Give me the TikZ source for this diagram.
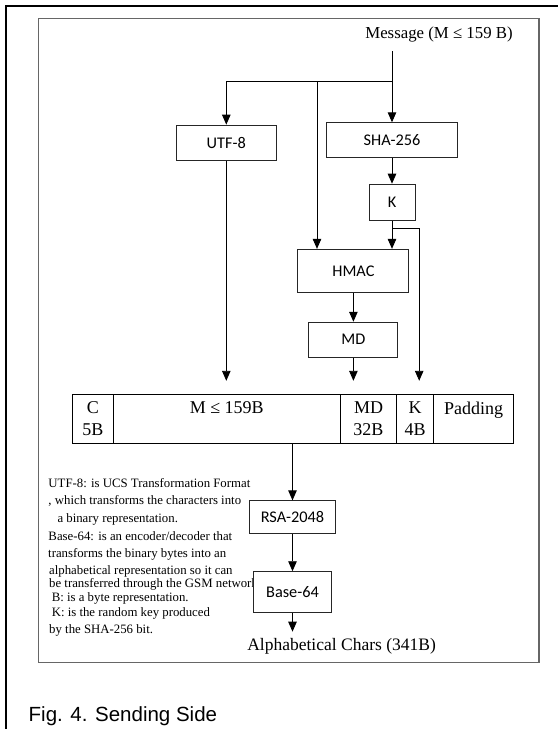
\documentclass[tikz,border=0pt]{standalone}
\usepackage{fontspec}
\setmainfont{Liberation Serif}
\setsansfont{Liberation Sans}
\newfontfamily\boxfont{Carlito}
\usetikzlibrary{arrows.meta,positioning}

\begin{document}
\begin{tikzpicture}[x=1pt, y=-1pt,
  box/.style={draw=black!85, line width=0.9pt, fill=white, inner sep=0pt, font=\boxfont\fontsize{16.3}{18}\selectfont},
  arr/.style={-{Triangle[length=10pt, width=8.5pt]}, line width=0.9pt},
  cell/.style={draw, line width=1pt, minimum height=49pt, inner sep=0pt, outer sep=0pt, align=center, font=\fontsize{18}{22}\selectfont},
  note/.style={anchor=west, inner sep=0pt, font=\fontsize{12.8}{14}\selectfont},
  node distance=0pt
]
\useasboundingbox (0,0) rectangle (558,729);
% frames
\draw[line width=2pt] (6.4,729) -- (6.4,6.4) -- (558,6.4);
\draw[draw=black!60, line width=1.3pt] (38.4,18.5) rectangle (539,662.8);

\node[anchor=base, font=\fontsize{16.8}{20}\selectfont] (msg) at (439,38.3) {Message (M ≤ 159 B)};
\node[box, minimum width=100pt, minimum height=35pt] (utf) at (226.3,142.6) {UTF-8};
\node[box, minimum width=131pt, minimum height=34.5pt] (sha) at (392,140) {SHA-256};
\node[box, minimum width=46pt, minimum height=36pt, below=26pt of sha] (k) {K};
\node[box, minimum width=111pt, minimum height=43pt] (hmac) at (353.4,270.8) {HMAC};
\node[box, minimum width=89pt, minimum height=35pt, below=29pt of hmac] (md) {MD};

% packet
\node[cell, minimum width=41pt, anchor=north west] (cC) at (72.3,394.3) {C\\5B};
\node[cell, minimum width=227pt, right=of cC] (cM) {M ≤ 159B\\~};
\node[cell, minimum width=56.4pt, right=of cM] (cMD) {MD\\32B};
\node[cell, minimum width=37pt, right=of cMD] (cK) {K\\4B};
\node[cell, minimum width=79.6pt, right=of cK] (cPad) {Padding\\~};

% notes
\foreach \x/\y/\t in {48.3/483/{UTF-8: is UCS Transformation Format},
    48.3/501/{, which transforms the characters into},
    57.3/519/{a binary representation.},
    48.3/536/{Base-64: is an encoder/decoder that},
    48/554/{transforms the binary bytes into an},
    49/571/{alphabetical representation so it can},
    49/584.5/{be transferred through the GSM network},
    51.6/598/{B: is a byte representation.},
    51.6/613/{K: is the random key produced},
    49/630/{by the SHA-256 bit.}}
  \node[note] (n\y) at (\x,\y) {\t};

\node[box, minimum width=86pt, minimum height=33pt] (rsa) at (292.5,517.3) {RSA-2048};
\node[box, minimum width=78pt, minimum height=41pt, below=37pt of rsa] (b64) {Base-64};
\node[anchor=base, inner sep=0pt, font=\fontsize{17.5}{20}\selectfont] (alph) at (341.6,650) {Alphabetical Chars (341B)};
\node[anchor=west, inner sep=0pt, font=\sffamily\fontsize{20.5}{24}\selectfont] (cap) at (28.5,716) {Fig. 4. Sending Side};

% connectors
\coordinate (msgout) at (392,51);
\coordinate (split) at (392,81);
\coordinate (mtap) at (317,81);
\coordinate (kbend) at (419.2,228.8);
\draw[arr] (msgout) -- (sha);
\draw[arr] (split) -| (utf);
\draw[arr] (mtap) -- (mtap |- hmac.north);
\draw[arr] (sha) -- (k);
\draw[arr] (k) -- (k |- hmac.north);
\draw[arr, shorten >=13.5pt] (k.south |- kbend) -- (kbend) -- (kbend |- cK.north);
\draw[arr] (hmac) -- (md);
\draw[arr, shorten >=13.5pt] (utf) -- (utf |- cM.north);
\draw[arr, shorten >=13.5pt] (md) -- (md |- cMD.north);
\draw[arr] (rsa |- cM.south) -- (rsa);
\draw[arr] (rsa) -- (b64);
\draw[arr, shorten >=6pt] (b64) -- (b64 |- alph.north);
\end{tikzpicture}
\end{document}
